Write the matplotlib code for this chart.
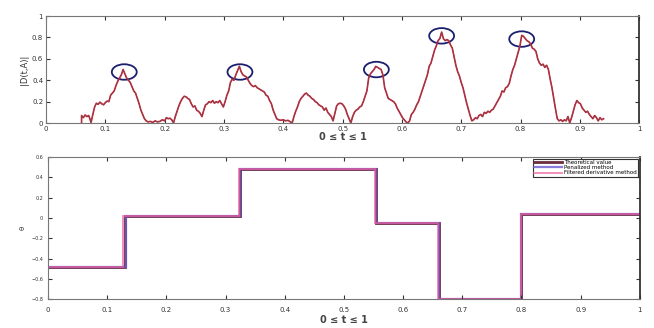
import numpy as np
import matplotlib.pyplot as plt
from matplotlib.patches import Ellipse

# Top panel: |D(t,A)| curve
t_curve = [0.060, 0.060, 0.063, 0.066, 0.069, 0.072, 0.074, 0.076, 0.079, 0.082,
           0.085, 0.088, 0.091, 0.094, 0.097, 0.100, 0.103, 0.106, 0.109, 0.112,
           0.115, 0.118, 0.121, 0.124, 0.127, 0.130, 0.133, 0.136, 0.139, 0.142,
           0.145, 0.148, 0.151, 0.154, 0.157, 0.160, 0.163, 0.166, 0.169, 0.172,
           0.176, 0.180, 0.184, 0.188, 0.192, 0.196, 0.200, 0.203, 0.206, 0.209,
           0.212, 0.215, 0.218, 0.221, 0.224, 0.227, 0.230, 0.233, 0.236, 0.239,
           0.242, 0.245, 0.248, 0.251, 0.254, 0.257, 0.260, 0.263, 0.266, 0.269,
           0.272, 0.275, 0.278, 0.281, 0.284, 0.287, 0.290, 0.293, 0.296, 0.299,
           0.302, 0.305, 0.308, 0.311, 0.314, 0.317, 0.320, 0.323, 0.326, 0.329,
           0.332, 0.335, 0.338, 0.341, 0.344, 0.347, 0.350, 0.353, 0.356, 0.359,
           0.362, 0.365, 0.368, 0.371, 0.374, 0.377, 0.380, 0.383, 0.386, 0.389,
           0.392, 0.396, 0.400, 0.404, 0.408, 0.412, 0.415, 0.418, 0.421, 0.424,
           0.427, 0.430, 0.433, 0.436, 0.439, 0.442, 0.445, 0.448, 0.451, 0.454,
           0.457, 0.460, 0.463, 0.466, 0.469, 0.472, 0.475, 0.478, 0.481, 0.484,
           0.487, 0.490, 0.493, 0.496, 0.499, 0.502, 0.505, 0.508, 0.511, 0.514,
           0.517, 0.520, 0.523, 0.526, 0.529, 0.532, 0.535, 0.538, 0.541, 0.544,
           0.547, 0.550, 0.553, 0.556, 0.559, 0.562, 0.565, 0.568, 0.571, 0.574,
           0.577, 0.580, 0.583, 0.586, 0.589, 0.592, 0.595, 0.598, 0.601, 0.604,
           0.607, 0.610, 0.613, 0.616, 0.619, 0.622, 0.625, 0.628, 0.631, 0.634,
           0.637, 0.640, 0.643, 0.646, 0.649, 0.652, 0.655, 0.658, 0.661, 0.664,
           0.667, 0.670, 0.673, 0.676, 0.679, 0.682, 0.685, 0.688, 0.691, 0.694,
           0.697, 0.700, 0.703, 0.706, 0.709, 0.712, 0.715, 0.718, 0.721, 0.724,
           0.727, 0.730, 0.733, 0.736, 0.739, 0.742, 0.745, 0.748, 0.751, 0.754,
           0.757, 0.760, 0.763, 0.766, 0.769, 0.772, 0.775, 0.778, 0.781, 0.784,
           0.787, 0.790, 0.793, 0.796, 0.799, 0.802, 0.805, 0.808, 0.811, 0.814,
           0.817, 0.820, 0.823, 0.826, 0.829, 0.832, 0.835, 0.838, 0.841, 0.844,
           0.847, 0.850, 0.853, 0.856, 0.859, 0.862, 0.865, 0.868, 0.871, 0.874,
           0.877, 0.880, 0.883, 0.886, 0.889, 0.892, 0.895, 0.898, 0.901, 0.904,
           0.907, 0.910, 0.913, 0.916, 0.919, 0.922, 0.925, 0.928, 0.931, 0.934,
           0.937, 0.940]
d_curve = [0.000, 0.070, 0.050, 0.075, 0.060, 0.070, 0.040, 0.005, 0.080, 0.150,
           0.185, 0.175, 0.195, 0.180, 0.170, 0.190, 0.205, 0.200, 0.260, 0.280,
           0.300, 0.350, 0.390, 0.420, 0.450, 0.500, 0.460, 0.420, 0.400, 0.380,
           0.340, 0.300, 0.280, 0.230, 0.180, 0.120, 0.080, 0.040, 0.020, 0.010,
           0.015, 0.005, 0.020, 0.010, 0.015, 0.030, 0.020, 0.050, 0.040, 0.045,
           0.030, 0.000, 0.060, 0.110, 0.160, 0.200, 0.230, 0.250, 0.245, 0.230,
           0.220, 0.180, 0.150, 0.160, 0.120, 0.110, 0.090, 0.060, 0.120, 0.170,
           0.180, 0.200, 0.190, 0.210, 0.185, 0.200, 0.190, 0.210, 0.180, 0.150,
           0.200, 0.260, 0.300, 0.380, 0.410, 0.400, 0.450, 0.490, 0.530, 0.480,
           0.450, 0.440, 0.430, 0.400, 0.370, 0.350, 0.340, 0.350, 0.330, 0.320,
           0.310, 0.300, 0.290, 0.260, 0.250, 0.210, 0.180, 0.120, 0.080, 0.040,
           0.030, 0.025, 0.030, 0.020, 0.025, 0.010, 0.000, 0.060, 0.110, 0.150,
           0.200, 0.230, 0.250, 0.270, 0.280, 0.260, 0.250, 0.230, 0.220, 0.200,
           0.190, 0.170, 0.160, 0.150, 0.120, 0.140, 0.100, 0.080, 0.060, 0.020,
           0.090, 0.160, 0.180, 0.185, 0.180, 0.160, 0.130, 0.080, 0.040, 0.000,
           0.060, 0.100, 0.120, 0.130, 0.150, 0.160, 0.200, 0.250, 0.300, 0.420,
           0.460, 0.480, 0.500, 0.530, 0.520, 0.510, 0.500, 0.450, 0.330, 0.280,
           0.230, 0.220, 0.210, 0.200, 0.180, 0.140, 0.110, 0.080, 0.050, 0.030,
           0.010, 0.000, 0.020, 0.080, 0.100, 0.130, 0.170, 0.200, 0.250, 0.300,
           0.350, 0.400, 0.450, 0.530, 0.560, 0.620, 0.680, 0.720, 0.770, 0.790,
           0.850, 0.790, 0.770, 0.780, 0.770, 0.730, 0.700, 0.620, 0.540, 0.480,
           0.440, 0.380, 0.330, 0.260, 0.190, 0.130, 0.070, 0.020, 0.030, 0.050,
           0.040, 0.070, 0.080, 0.060, 0.100, 0.090, 0.110, 0.100, 0.120, 0.130,
           0.160, 0.190, 0.220, 0.250, 0.300, 0.290, 0.330, 0.340, 0.370, 0.440,
           0.500, 0.540, 0.600, 0.660, 0.720, 0.820, 0.810, 0.790, 0.770, 0.760,
           0.740, 0.700, 0.690, 0.670, 0.600, 0.560, 0.540, 0.550, 0.520, 0.540,
           0.500, 0.410, 0.330, 0.230, 0.130, 0.040, 0.020, 0.030, 0.015, 0.030,
           0.020, 0.060, 0.000, 0.050, 0.110, 0.170, 0.210, 0.190, 0.180, 0.140,
           0.120, 0.100, 0.110, 0.080, 0.060, 0.040, 0.070, 0.050, 0.020, 0.050,
           0.030, 0.040]

# Circled peaks (centre t, centre value)
peak_t = [0.132, 0.327, 0.557, 0.667, 0.802]
peak_d = [0.477, 0.477, 0.50, 0.815, 0.785]

# Bottom panel: piecewise-constant estimates
theo_t = [0, 0.130, 0.325, 0.555, 0.660, 0.800, 1.0]
theo_v = [-0.48, 0.02, 0.48, -0.05, -0.80, 0.035]
pen_t = [0, 0.132, 0.325, 0.555, 0.660, 0.800, 1.0]
pen_v = [-0.48, 0.02, 0.48, -0.05, -0.80, 0.035]
filt_t = [0, 0.127, 0.323, 0.553, 0.659, 0.799, 1.0]
filt_v = [-0.48, 0.02, 0.48, -0.05, -0.80, 0.035]

tick_font = 5

fig = plt.figure(figsize=(6.54, 3.28), dpi=100)

# Top plot
ax1 = fig.add_axes([0.0703, 0.625, 0.907, 0.326])
ax1.plot(t_curve, d_curve, color='#e8102a', lw=1.2)
ax1.plot(t_curve, d_curve, color='#5a5a5a', lw=0.5)
for pt, pd_ in zip(peak_t, peak_d):
    ax1.add_patch(Ellipse((pt, pd_), 0.042, 0.145, fill=False,
                          edgecolor='#1a1f6e', lw=1.3))
ax1.set_xlim(0, 1)
ax1.set_ylim(0, 1)
ax1.set_xticks(np.arange(0, 1.01, 0.1))
ax1.set_xticklabels(['0', '0.1', '0.2', '0.3', '0.4', '0.5',
                     '0.6', '0.7', '0.8', '0.9', '1'])
ax1.set_yticks([0, 0.2, 0.4, 0.6, 0.8, 1])
ax1.set_yticklabels(['0', '0.2', '0.4', '0.6', '0.8', '1'])
ax1.tick_params(direction='in', top=True, right=True, length=3,
                labelsize=tick_font, colors='#333333', pad=2)
ax1.set_xlabel('0 ≤ t ≤ 1', fontsize=7, fontweight='bold',
               color='#444444', labelpad=0)
ax1.set_ylabel('|D(t,A)|', fontsize=6, color='#333333', labelpad=2)
for s in ax1.spines.values():
    s.set_color('#777777')
ax1.spines['right'].set_color('#333333')
ax1.spines['right'].set_linewidth(1.3)

# Bottom plot
ax2 = fig.add_axes([0.0734, 0.088, 0.905, 0.433])
ax2.stairs(theo_v, theo_t, color='#6b2c3c', lw=2.0, label='Theoretical value',
           baseline=None)
ax2.stairs(pen_v, pen_t, color='#6a5ad0', lw=1.6, alpha=0.8,
           label='Penalized method', baseline=None)
ax2.stairs(filt_v, filt_t, color='#ee5f9a', lw=1.3, alpha=0.75,
           label='Filtered derivative method', baseline=None)
ax2.set_xlim(0, 1)
ax2.set_ylim(-0.8, 0.6)
ax2.set_xticks(np.arange(0, 1.01, 0.1))
ax2.set_xticklabels(['0', '0.1', '0.2', '0.3', '0.4', '0.5',
                     '0.6', '0.7', '0.8', '0.9', '1'])
ax2.set_yticks([-0.8, -0.6, -0.4, -0.2, 0, 0.2, 0.4, 0.6])
ax2.set_yticklabels(['−0.8', '−0.6', '−0.4', '−0.2', '0', '0.2', '0.4', '0.6'],
                    fontsize=3.5)
ax2.tick_params(axis='x', labelsize=tick_font, pad=6)
ax2.tick_params(direction='in', top=True, right=True, length=3,
                colors='#333333')
ax2.set_xlabel('0 ≤ t ≤ 1', fontsize=7, fontweight='bold',
               color='#444444', labelpad=1)
ax2.set_ylabel('θ', fontsize=5, color='#333333', labelpad=4)
for s in ax2.spines.values():
    s.set_color('#777777')
ax2.spines['right'].set_color('#333333')
ax2.spines['right'].set_linewidth(1.3)
leg = ax2.legend(loc='upper right', fontsize=4, handlelength=5,
                 borderpad=0.2, labelspacing=0.05, handletextpad=0.5,
                 fancybox=False, framealpha=1, borderaxespad=0.3)
leg.get_frame().set_edgecolor('#333333')
leg.get_frame().set_linewidth(0.8)

plt.savefig('out.png', dpi=100)
